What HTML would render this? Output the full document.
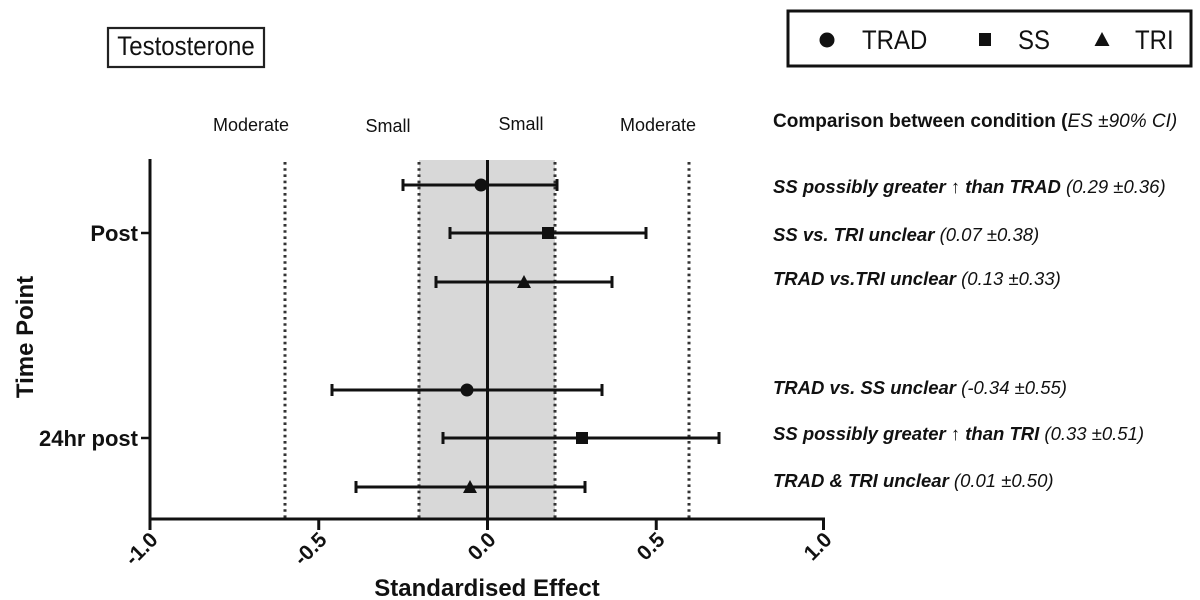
<!DOCTYPE html>
<html>
<head>
<meta charset="utf-8">
<style>
  html, body { margin:0; padding:0; background:#fff; }
  svg { display:block; }
  text { font-family: "Liberation Sans", Arial, sans-serif; fill:#111; }
  .b { font-weight:bold; }
  .bi { font-weight:bold; font-style:italic; }
  .ri { font-weight:normal; font-style:italic; }
</style>
</head>
<body>
<svg width="1200" height="600" viewBox="0 0 1200 600" xmlns="http://www.w3.org/2000/svg">
  <rect x="0" y="0" width="1200" height="600" fill="#fff"/>

  <!-- Title box -->
  <rect x="108" y="28" width="156" height="39" fill="none" stroke="#222" stroke-width="2.2"/>
  <text x="186" y="55" font-size="24" text-anchor="middle" transform="translate(0,-5.5) scale(1,1.1)" fill="#222">Testosterone</text>

  <!-- Legend box -->
  <rect x="788" y="11" width="403" height="55" fill="none" stroke="#111" stroke-width="3"/>
  <circle cx="827" cy="40" r="7.5" fill="#111"/>
  <text x="862" y="49" font-size="24" transform="translate(0,-4.9) scale(1,1.1)">TRAD</text>
  <rect x="979" y="33" width="12" height="13" fill="#111"/>
  <text x="1018" y="49" font-size="24" transform="translate(0,-4.9) scale(1,1.1)">SS</text>
  <polygon points="1102,32 1109.5,46 1094.5,46" fill="#111"/>
  <text x="1135" y="49" font-size="24" transform="translate(0,-4.9) scale(1,1.1)">TRI</text>

  <!-- Effect size labels -->
  <text x="251" y="131" font-size="18" text-anchor="middle" fill="#333">Moderate</text>
  <text x="388" y="132" font-size="18" text-anchor="middle" fill="#333">Small</text>
  <text x="521" y="130" font-size="18" text-anchor="middle" fill="#333">Small</text>
  <text x="658" y="131" font-size="18" text-anchor="middle" fill="#333">Moderate</text>

  <!-- Header right -->
  <text x="773" y="127" font-size="19"><tspan class="b">Comparison between condition (</tspan><tspan class="ri">ES ±90% CI)</tspan></text>

  <!-- Shaded small region -->
  <rect x="419" y="160" width="136" height="359" fill="#d8d8d8"/>

  <!-- Dotted lines -->
  <g stroke="#333" stroke-width="3" stroke-dasharray="2.6 3.6" fill="none">
    <line x1="285" y1="162" x2="285" y2="518"/>
    <line x1="419" y1="162" x2="419" y2="518"/>
    <line x1="555" y1="162" x2="555" y2="518"/>
    <line x1="689" y1="162" x2="689" y2="518"/>
  </g>

  <!-- Zero line -->
  <line x1="487.5" y1="160" x2="487.5" y2="519" stroke="#111" stroke-width="3"/>

  <!-- Axes -->
  <line x1="150" y1="159" x2="150" y2="520" stroke="#111" stroke-width="3"/>
  <line x1="148.5" y1="519" x2="825" y2="519" stroke="#111" stroke-width="3"/>
  <!-- y ticks -->
  <line x1="141" y1="233" x2="150" y2="233" stroke="#111" stroke-width="2.5"/>
  <line x1="141" y1="438" x2="150" y2="438" stroke="#111" stroke-width="2.5"/>
  <!-- x ticks -->
  <g stroke="#111" stroke-width="3">
    <line x1="150" y1="519" x2="150" y2="530"/>
    <line x1="318.75" y1="519" x2="318.75" y2="530"/>
    <line x1="487.5" y1="519" x2="487.5" y2="530"/>
    <line x1="656.25" y1="519" x2="656.25" y2="530"/>
    <line x1="823.5" y1="519" x2="823.5" y2="530"/>
  </g>

  <!-- x tick labels -->
  <g font-size="21" text-anchor="end">
    <text class="b" transform="translate(159,541) rotate(-45)">-1.0</text>
    <text class="b" transform="translate(328,541) rotate(-45)">-0.5</text>
    <text class="b" transform="translate(497,541) rotate(-45)">0.0</text>
    <text class="b" transform="translate(666,541) rotate(-45)">0.5</text>
    <text class="b" transform="translate(833,541) rotate(-45)">1.0</text>
  </g>

  <!-- axis titles -->
  <text x="487" y="596" font-size="24" class="b" text-anchor="middle">Standardised Effect</text>
  <text transform="translate(33,337) rotate(-90)" font-size="24" class="b" text-anchor="middle">Time Point</text>

  <!-- y tick labels -->
  <text x="138" y="241" font-size="22" class="b" text-anchor="end">Post</text>
  <text x="138" y="446" font-size="22" class="b" text-anchor="end">24hr post</text>

  <!-- Error bars -->
  <g stroke="#111" stroke-width="3" fill="none">
    <!-- Post TRAD -->
    <line x1="403" y1="185" x2="557" y2="185"/>
    <line x1="403" y1="179" x2="403" y2="191"/>
    <line x1="557" y1="179" x2="557" y2="191"/>
    <!-- Post SS -->
    <line x1="450" y1="233" x2="646" y2="233"/>
    <line x1="450" y1="227" x2="450" y2="239"/>
    <line x1="646" y1="227" x2="646" y2="239"/>
    <!-- Post TRI -->
    <line x1="436" y1="282" x2="612" y2="282"/>
    <line x1="436" y1="276" x2="436" y2="288"/>
    <line x1="612" y1="276" x2="612" y2="288"/>
    <!-- 24hr TRAD -->
    <line x1="332" y1="390" x2="602" y2="390"/>
    <line x1="332" y1="384" x2="332" y2="396"/>
    <line x1="602" y1="384" x2="602" y2="396"/>
    <!-- 24hr SS -->
    <line x1="443" y1="438" x2="719" y2="438"/>
    <line x1="443" y1="432" x2="443" y2="444"/>
    <line x1="719" y1="432" x2="719" y2="444"/>
    <!-- 24hr TRI -->
    <line x1="356" y1="487" x2="585" y2="487"/>
    <line x1="356" y1="481" x2="356" y2="493"/>
    <line x1="585" y1="481" x2="585" y2="493"/>
  </g>

  <!-- Markers -->
  <circle cx="481" cy="185" r="6.5" fill="#111"/>
  <rect x="542" y="227" width="12" height="12" fill="#111"/>
  <polygon points="524,275 531,288 517,288" fill="#111"/>
  <circle cx="467" cy="390" r="6.5" fill="#111"/>
  <rect x="576" y="432" width="12" height="12" fill="#111"/>
  <polygon points="470,480 477,493 463,493" fill="#111"/>

  <!-- Right-side comparison text -->
  <g font-size="18.5">
    <text x="773" y="193"><tspan class="bi">SS possibly greater ↑ than TRAD </tspan><tspan class="ri">(0.29 ±0.36)</tspan></text>
    <text x="773" y="241"><tspan class="bi">SS vs. TRI unclear </tspan><tspan class="ri">(0.07 ±0.38)</tspan></text>
    <text x="773" y="285"><tspan class="bi">TRAD vs.TRI unclear </tspan><tspan class="ri">(0.13 ±0.33)</tspan></text>
    <text x="773" y="394"><tspan class="bi">TRAD vs. SS unclear </tspan><tspan class="ri">(-0.34 ±0.55)</tspan></text>
    <text x="773" y="440"><tspan class="bi">SS possibly greater ↑ than TRI </tspan><tspan class="ri">(0.33 ±0.51)</tspan></text>
    <text x="773" y="487"><tspan class="bi">TRAD &amp; TRI unclear </tspan><tspan class="ri">(0.01 ±0.50)</tspan></text>
  </g>
</svg>
</body>
</html>
